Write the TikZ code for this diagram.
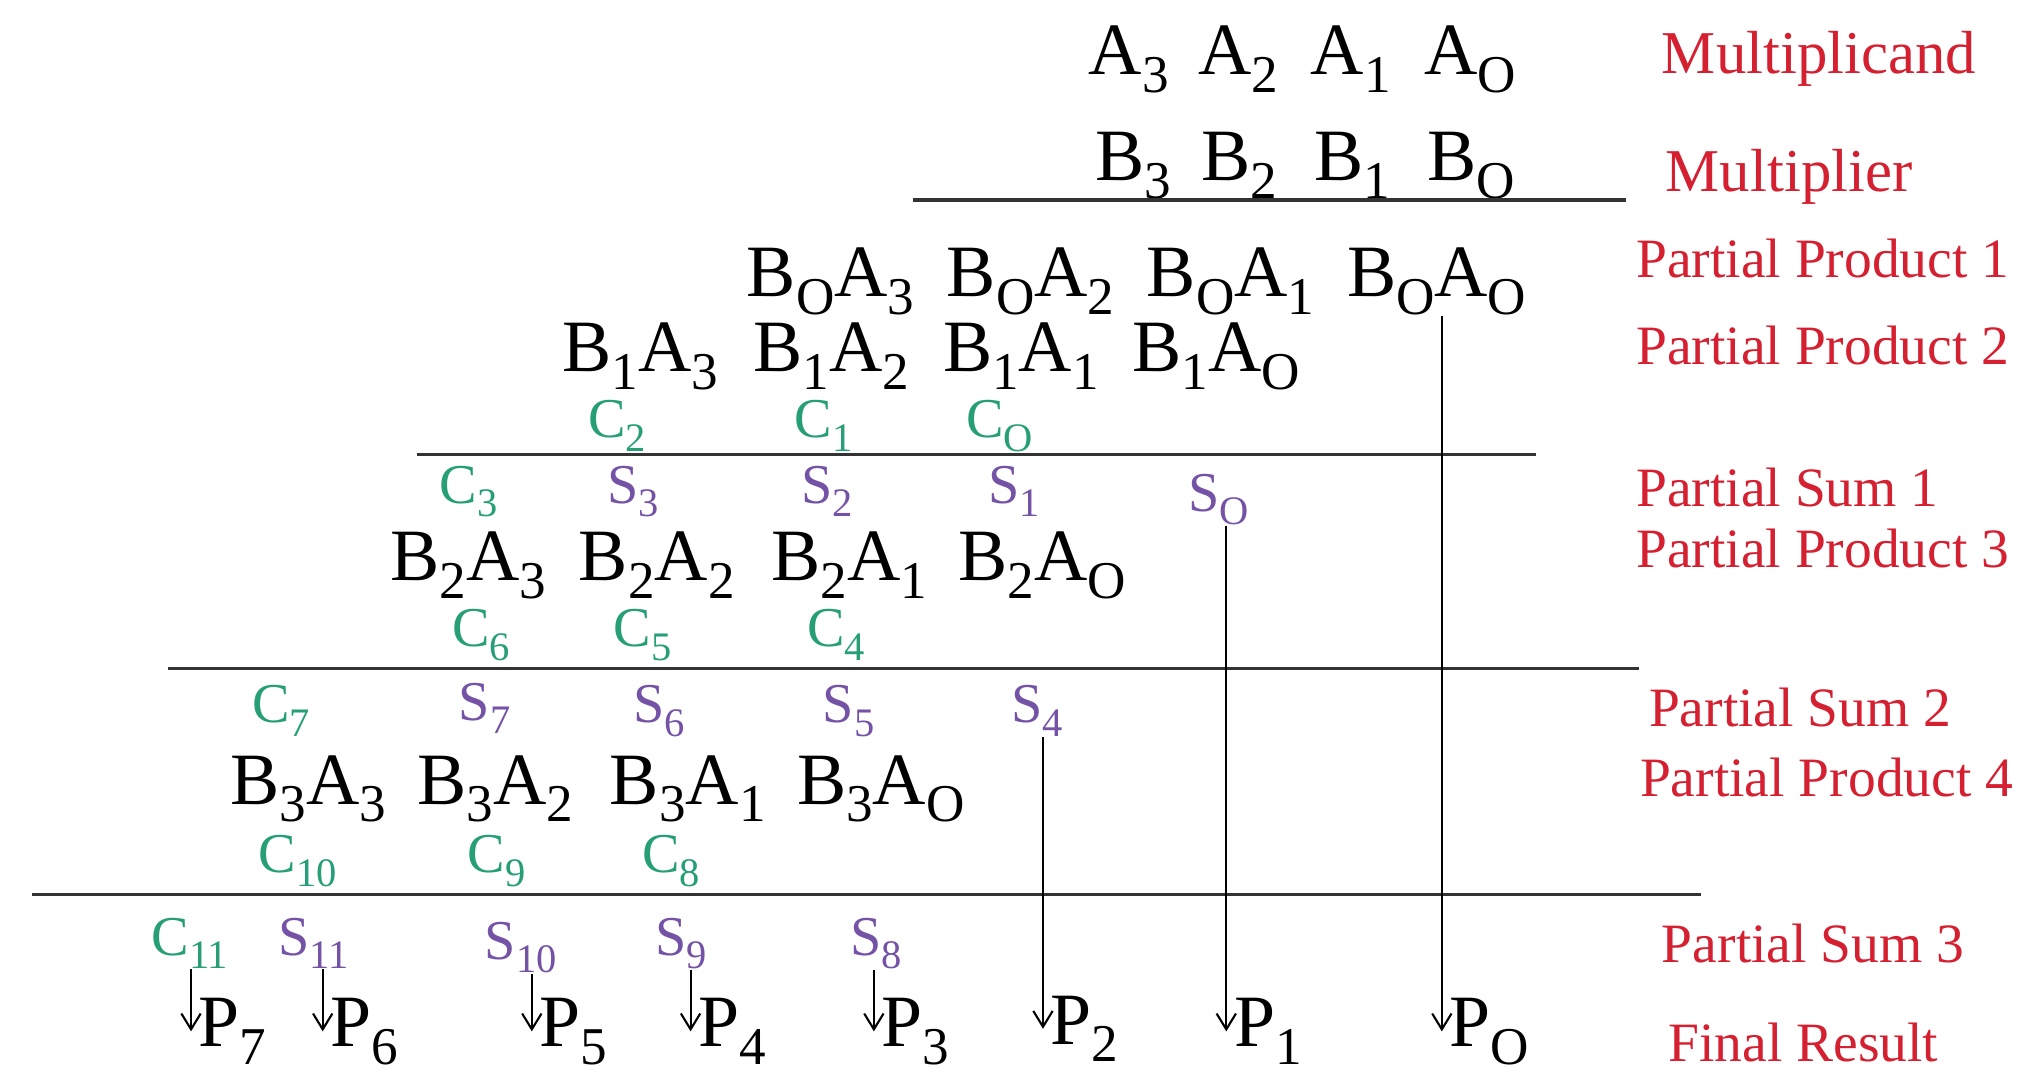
\documentclass[tikz,border=0pt]{standalone}
\usepackage{fontspec}
\setmainfont{Liberation Serif}
\usepackage{graphicx}
\usepackage{xcolor}
\usepackage{tikz}
\usetikzlibrary{arrows.meta,positioning}

\definecolor{labred}{RGB}{212,32,48}
\definecolor{carrygreen}{RGB}{38,158,118}
\definecolor{sumpurple}{RGB}{116,82,166}
\newcommand{\lo}[1]{\raisebox{-0.24em}{\scalebox{0.72}{#1}}}

\begin{document}
\begin{tikzpicture}[
  x=0.012908cm, y=-0.012908cm,
  bit/.style={inner sep=0pt, anchor=base west, font=\fontsize{21}{24}\selectfont},
  carry/.style={bit, font=\fontsize{16}{18}\selectfont, text=carrygreen},
  sum/.style={bit, font=\fontsize{16}{18}\selectfont, text=sumpurple},
  lbl/.style={bit, font=\fontsize{15.8}{18}\selectfont, text=labred},
  biglbl/.style={lbl, font=\fontsize{17.3}{19}\selectfont},
  arr/.style={-{Straight Barb[length=4.5pt,width=5.5pt]}, line width=0.6pt},
  rule/.style={line width=1pt, draw=black!80}
]
\useasboundingbox (0,0) rectangle (1568,832);
% operands
\node[bit] (a3) at (843,58) {A\lo{3}};
\node[bit] (a2) at (928,58) {A\lo{2}};
\node[bit] (a1) at (1015,58) {A\lo{1}};
\node[bit] (a0) at (1103,58) {A\lo{O}};
\node[bit] (b3) at (848,140) {B\lo{3}};
\node[bit] (b2) at (930,140) {B\lo{2}};
\node[bit] (b1) at (1018,140) {B\lo{1}};
\node[bit] (b0) at (1105,140) {B\lo{O}};
\draw[rule] (707,155) -- (1260,155);
% partial products 1 and 2
\node[bit] (b0a3) at (578,230) {B\lo{O}A\lo{3}};
\node[bit] (b0a2) at (733,230) {B\lo{O}A\lo{2}};
\node[bit] (b0a1) at (888,230) {B\lo{O}A\lo{1}};
\node[bit] (b0a0) at (1043,230) {B\lo{O}A\lo{O}};
\node[bit] (b1a3) at (435,288) {B\lo{1}A\lo{3}};
\node[bit] (b1a2) at (583,288) {B\lo{1}A\lo{2}};
\node[bit] (b1a1) at (730,288) {B\lo{1}A\lo{1}};
\node[bit] (b1a0) at (877,288) {B\lo{1}A\lo{O}};
\node[carry] (c2) at (455,339) {C\lo{2}};
\node[carry] (c1) at (615,339) {C\lo{1}};
\node[carry] (c0) at (748,339) {C\lo{O}};
\draw[rule] (323,352) -- (1190,352);
% partial sum 1, partial product 3
\node[carry] (c3) at (340,390) {C\lo{3}};
\node[sum] (s3) at (470,390) {S\lo{3}};
\node[sum] (s2) at (620,390) {S\lo{2}};
\node[sum] (s1) at (765,390) {S\lo{1}};
\node[sum] (s0) at (920,396) {S\lo{O}};
\node[bit] (b2a3) at (302,450) {B\lo{2}A\lo{3}};
\node[bit] (b2a2) at (448,450) {B\lo{2}A\lo{2}};
\node[bit] (b2a1) at (597,450) {B\lo{2}A\lo{1}};
\node[bit] (b2a0) at (742,450) {B\lo{2}A\lo{O}};
\node[carry] (c6) at (350,501) {C\lo{6}};
\node[carry] (c5) at (475,501) {C\lo{5}};
\node[carry] (c4) at (625,501) {C\lo{4}};
\draw[rule] (130,518) -- (1270,518);
% partial sum 2, partial product 4
\node[carry] (c7) at (195,560) {C\lo{7}};
\node[sum] (s7) at (355,558) {S\lo{7}};
\node[sum] (s6) at (490,560) {S\lo{6}};
\node[sum] (s5) at (637,560) {S\lo{5}};
\node[sum] (s4) at (783,560) {S\lo{4}};
\node[bit] (b3a3) at (178,623) {B\lo{3}A\lo{3}};
\node[bit] (b3a2) at (323,623) {B\lo{3}A\lo{2}};
\node[bit] (b3a1) at (472,623) {B\lo{3}A\lo{1}};
\node[bit] (b3a0) at (617,623) {B\lo{3}A\lo{O}};
\node[carry] (c10) at (200,676) {C\lo{10}};
\node[carry] (c9) at (362,676) {C\lo{9}};
\node[carry] (c8) at (497,676) {C\lo{8}};
\draw[rule] (25,693) -- (1318,693);
% partial sum 3
\node[carry] (c11) at (117,740) {C\lo{11}};
\node[sum] (s11) at (215,740) {S\lo{11}};
\node[sum] (s10) at (375,743) {S\lo{10}};
\node[sum] (s9) at (507,740) {S\lo{9}};
\node[sum] (s8) at (658,740) {S\lo{8}};
% final result
\coordinate (t7) at (148,799);
\coordinate (t6) at (250,799);
\coordinate (t5) at (412,799);
\coordinate (t4) at (535,799);
\coordinate (t3) at (677,799);
\coordinate (t2) at (808,797);
\coordinate (t1) at (950,799);
\coordinate (t0) at (1117,799);
\node[bit, right=2pt of t7] (p7) {P\lo{7}};
\node[bit, right=2pt of t6] (p6) {P\lo{6}};
\node[bit, right=2pt of t5] (p5) {P\lo{5}};
\node[bit, right=2pt of t4] (p4) {P\lo{4}};
\node[bit, right=2pt of t3] (p3) {P\lo{3}};
\node[bit, right=2pt of t2] (p2) {P\lo{2}};
\node[bit, right=2pt of t1] (p1) {P\lo{1}};
\node[bit, right=2pt of t0] (p0) {P\lo{O}};
\draw[arr] (c11.south -| t7) -- (t7);
\draw[arr] (s11.south -| t6) -- (t6);
\draw[arr] (s10.south -| t5) -- (t5);
\draw[arr] (s9.south -| t4) -- (t4);
\draw[arr] (s8.south -| t3) -- (t3);
\draw[arr] (s4.south -| t2) -- (t2);
\draw[arr] (s0.south -| t1) -- (t1);
\draw[arr] (b0a0.south -| t0) -- (t0);
% row labels
\node[biglbl] (lmcand) at (1287,57) {Multiplicand};
\node[biglbl] (lmplier) at (1290,148) {Multiplier};
\node[lbl] (lpp1) at (1267,215) {Partial Product 1};
\node[lbl] (lpp2) at (1267,282) {Partial Product 2};
\node[lbl] (lps1) at (1267,392) {Partial Sum 1};
\node[lbl] (lpp3) at (1267,440) {Partial Product 3};
\node[lbl] (lps2) at (1277,563) {Partial Sum 2};
\node[lbl] (lpp4) at (1270,617) {Partial Product 4};
\node[lbl] (lps3) at (1287,746) {Partial Sum 3};
\node[lbl] (lfin) at (1292,822) {Final Result};
\end{tikzpicture}
\end{document}
